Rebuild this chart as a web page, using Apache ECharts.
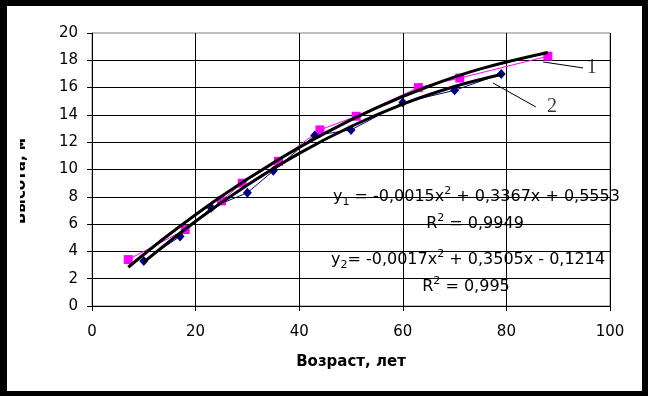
<!DOCTYPE html>
<html>
<head>
<meta charset="utf-8">
<script src="https://cdn.jsdelivr.net/npm/echarts@6/dist/echarts.min.js"></script>
<style>
  html, body { margin:0; padding:0; background:#000; }
  #frame { position:absolute; left:7px; top:6px; width:635px; height:385px; background:#fff; }
  #main { position:absolute; left:0; top:0; width:648px; height:396px; }
</style>
</head>
<body>
<div id="frame"></div>
<div id="main"></div>
<script>
// ---- data ----
const xTicks = [0, 20, 40, 60, 80, 100];
const yTicks = [0, 2, 4, 6, 8, 10, 12, 14, 16, 18, 20];

// series 1 (magenta squares): age, height
const ages1    = [7, 18, 25, 29, 36, 44, 51, 63, 71, 88];
const heights1 = [3.4, 5.6, 7.7, 9.0, 10.6, 12.9, 13.9, 16.0, 16.7, 18.3];

// series 2 (navy diamonds): age, height
const ages2    = [10, 17, 23, 30, 35, 43, 50, 60, 70, 79];
const heights2 = [3.3, 5.1, 7.2, 8.3, 9.9, 12.5, 12.9, 14.9, 15.8, 17.0];

// trend line 1 points
const trendX1 = [7, 15, 25, 35, 45, 55, 65, 75, 88];
const trendY1 = [2.84, 5.27, 8.04, 10.50, 12.67, 14.53, 16.10, 17.37, 18.57];
// trend line 2 points
const trendX2 = [10, 20, 30, 40, 50, 60, 70, 79];
const trendY2 = [3.21, 6.21, 8.86, 11.18, 13.15, 14.79, 16.08, 16.96];

// callout labels and leader lines (data coordinates)
const calloutLabels = ['1', '2'];
const calloutLabelPos = [[96.5, 17.44], [88.8, 14.58]];
const calloutLeaders = [[[87.1, 17.88], [94.8, 17.44]], [[77.4, 16.34], [85.7, 14.58]]];

const xTitle = 'Возраст, лет';
const yTitle = 'Высота, м';

const zip = (a, b) => a.map((v, i) => [v, b[i]]);

const chart = echarts.init(document.getElementById('main'), null, { renderer: 'canvas' });

const tickFont = { fontFamily: 'DejaVu Sans', fontSize: 15, color: '#000' };
const eqFont = 'DejaVu Sans';
const rich = {
  a:   { fontFamily: eqFont, fontSize: 16, color: '#000', lineHeight: 22 },
  sup: { fontFamily: eqFont, fontSize: 11, color: '#000', verticalAlign: 'top', lineHeight: 11 },
  sub: { fontFamily: eqFont, fontSize: 11, color: '#000', verticalAlign: 'bottom', lineHeight: 11 }
};

const option = {
  animation: false,
  backgroundColor: 'transparent',
  grid: { left: 92, right: 38, top: 33, bottom: 90, show: true, borderColor: '#808080', borderWidth: 1, backgroundColor: 'transparent' },
  xAxis: {
    type: 'value', min: xTicks[0], max: xTicks[xTicks.length - 1], interval: 20,
    name: xTitle, nameLocation: 'middle', nameGap: 49,
    nameTextStyle: { fontFamily: 'DejaVu Sans', fontWeight: 'bold', fontSize: 15, color: '#000' },
    axisLine: { show: true, lineStyle: { color: '#000', width: 1 } },
    axisTick: { show: true, inside: false, length: 5, lineStyle: { color: '#000' } },
    axisLabel: Object.assign({ margin: 19 }, tickFont),
    splitLine: { show: true, showMinLine: true, showMaxLine: true, lineStyle: { color: '#000', width: 1 } }
  },
  yAxis: {
    type: 'value', min: yTicks[0], max: yTicks[yTicks.length - 1], interval: 2,
    axisLine: { show: true, lineStyle: { color: '#000', width: 1 } },
    axisTick: { show: true, inside: false, length: 5, lineStyle: { color: '#000' } },
    axisLabel: Object.assign({ margin: 14 }, tickFont),
    splitLine: { show: true, showMaxLine: false, lineStyle: { color: '#000', width: 1 } }
  },
  series: [
    {
      type: 'line', data: zip(ages1, heights1), symbol: 'rect', symbolSize: 9,
      itemStyle: { color: '#FF00FF' }, lineStyle: { color: '#FF00FF', width: 1 }, z: 3
    },
    {
      type: 'line', data: zip(ages2, heights2), symbol: 'diamond', symbolSize: [9, 10],
      itemStyle: { color: '#000080' }, lineStyle: { color: '#000080', width: 1 }, z: 3
    },
    {
      type: 'line', data: zip(trendX1, trendY1), smooth: 0.4, showSymbol: false, symbol: 'none',
      lineStyle: { color: '#000', width: 3 }, z: 4,
      markLine: {
        silent: true, symbol: 'none', label: { show: false },
        lineStyle: { color: '#000', width: 1, type: 'solid' },
        data: calloutLeaders.map(seg => [{ coord: seg[0] }, { coord: seg[1] }])
      }
    },
    {
      type: 'line', data: zip(trendX2, trendY2), smooth: 0.4, showSymbol: false, symbol: 'none',
      lineStyle: { color: '#000', width: 3 }, z: 4
    },
    {
      type: 'scatter', symbolSize: 0, silent: true,
      data: calloutLabelPos.map((p, i) => ({ value: p, name: calloutLabels[i] })),
      label: { show: true, position: 'inside', formatter: p => p.name,
               fontFamily: 'Liberation Serif', fontSize: 20, color: '#000' }
    }
  ],
  graphic: [
    { type: 'text', left: 333, top: 186, z: 1,
      style: { rich, text: '{a|y}{sub|1}{a| = -0,0015x}{sup|2}{a| + 0,3367x + 0,5553}' } },
    { type: 'text', x: 475, y: 224, z: 1,
      style: { rich, text: '{a|R}{sup|2}{a| = 0,9949}', textAlign: 'center', textVerticalAlign: 'middle' } },
    { type: 'text', left: 331, top: 249, z: 1,
      style: { rich, text: '{a|y}{sub|2}{a|= -0,0017x}{sup|2}{a| + 0,3505x - 0,1214}' } },
    { type: 'text', x: 466, y: 287, z: 1,
      style: { rich, text: '{a|R}{sup|2}{a| = 0,995}', textAlign: 'center', textVerticalAlign: 'middle' } },
    { type: 'text', x: 21, y: 181, rotation: Math.PI / 2, z: 1,
      style: { text: yTitle, fontFamily: 'DejaVu Sans', fontWeight: 'bold', fontSize: 15, fill: '#000',
               textAlign: 'center', textVerticalAlign: 'middle' } },
    { type: 'rect', z: 2, shape: { x: 7, y: 100, width: 13, height: 180 }, style: { fill: '#fff' } }
  ]
};
chart.setOption(option);
</script>
</body>
</html>
